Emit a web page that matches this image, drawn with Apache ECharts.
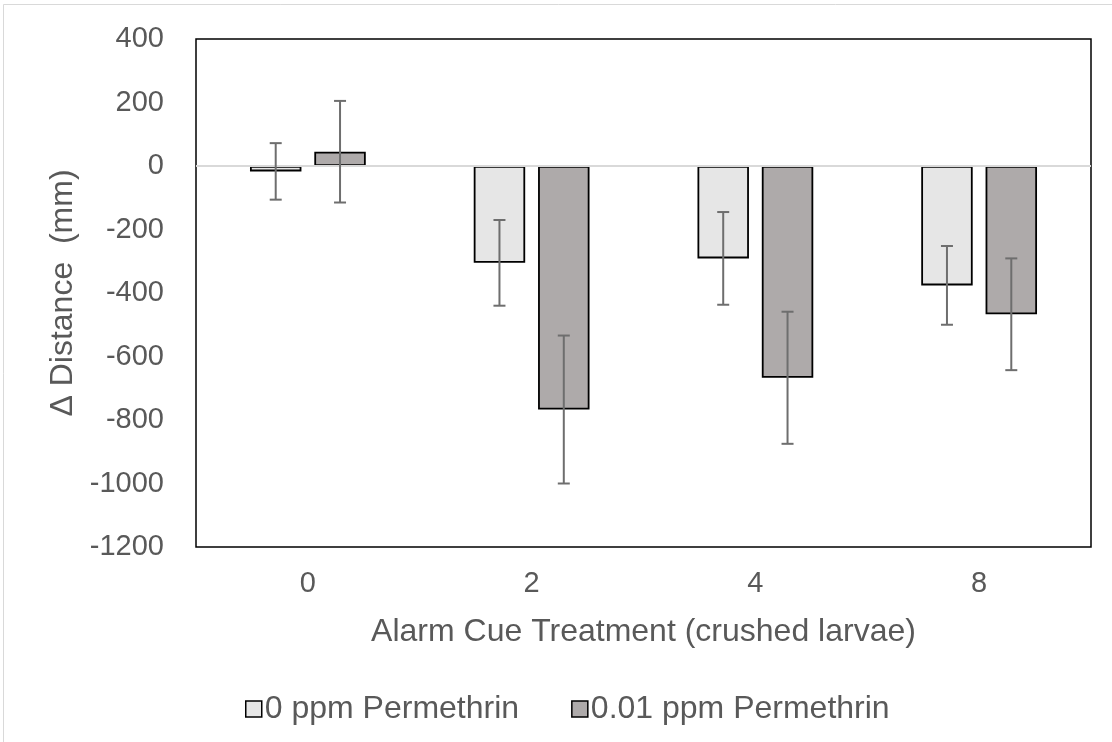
<!DOCTYPE html>
<html>
<head>
<meta charset="utf-8">
<script src="https://cdn.jsdelivr.net/npm/echarts@6/dist/echarts.min.js"></script>
<style>
html,body{margin:0;padding:0;background:#fff;}
#chart{width:1112px;height:742px;}
</style>
</head>
<body>
<div id="chart"></div>
<script>
var categories = ['0', '2', '4', '8'];
var seriesNames = ['0 ppm Permethrin', '0.01 ppm Permethrin'];
var means0 = [-17, -305, -291, -376];
var errs0 = [89, 135, 146, 124];
var means1 = [45, -767, -667, -467];
var errs1 = [160, 233, 208, 176];
var yTicks = {min: -1200, max: 400, interval: 200};

var colors = ['#e6e6e6', '#aeaaaa'];
var BAR_W = 0.23, BAR_GAP = 0.25;
var textColor = '#595959';
var FONT = '"Liberation Sans", Arial, sans-serif';

function errorSeries(means, errs, sign) {
  var data = means.map(function (m, i) { return [i, m - errs[i], m + errs[i]]; });
  return {
    type: 'custom',
    z: 10,
    silent: true,
    data: data,
    encode: {x: 0, y: [1, 2]},
    renderItem: function (params, api) {
      var idx = api.value(0);
      var band = api.size([1, 0])[0];
      var off = sign * band * BAR_W * (1 + BAR_GAP) / 2;
      var lo = api.coord([idx, api.value(1)]);
      var hi = api.coord([idx, api.value(2)]);
      var x = lo[0] + off;
      var cap = 6;
      var style = {stroke: '#6e6e6e', lineWidth: 2, fill: null};
      return {
        type: 'group',
        children: [
          {type: 'line', shape: {x1: x, y1: lo[1], x2: x, y2: hi[1]}, style: style},
          {type: 'line', shape: {x1: x - cap, y1: lo[1], x2: x + cap, y2: lo[1]}, style: style},
          {type: 'line', shape: {x1: x - cap, y1: hi[1], x2: x + cap, y2: hi[1]}, style: style}
        ]
      };
    }
  };
}

var chart = echarts.init(document.getElementById('chart'));
chart.setOption({
  animation: false,
  backgroundColor: '#fff',
  textStyle: {fontFamily: FONT},
  graphic: [{
    type: 'rect', silent: true, z: -1,
    shape: {x: 3.5, y: 4.5, width: 1120, height: 760},
    style: {fill: null, stroke: '#d9d9d9', lineWidth: 1}
  }],
  grid: {
    left: 196, right: 21, top: 39, bottom: 195,
    show: true, borderColor: '#000', borderWidth: 1.5, backgroundColor: 'transparent'
  },
  legend: {
    data: seriesNames,
    top: 688,
    left: 240,
    icon: 'rect',
    itemWidth: 16,
    itemHeight: 16,
    itemGap: 52,
    textStyle: {fontSize: 32, color: textColor, fontFamily: FONT, padding: [0, 0, 0, -2]},
    itemStyle: {borderColor: '#000', borderWidth: 1.5}
  },
  xAxis: {
    type: 'category',
    data: categories,
    name: 'Alarm Cue Treatment (crushed larvae)',
    nameLocation: 'middle',
    nameGap: 69,
    nameTextStyle: {fontSize: 32, color: textColor, fontFamily: FONT},
    axisLine: {show: false},
    axisTick: {show: false},
    axisLabel: {fontSize: 29, color: textColor, margin: 22, fontFamily: FONT}
  },
  yAxis: {
    type: 'value',
    min: yTicks.min, max: yTicks.max, interval: yTicks.interval,
    name: 'Δ Distance  (mm)',
    nameLocation: 'middle',
    nameGap: 105,
    nameRotate: 90,
    nameTextStyle: {fontSize: 32, color: textColor, fontFamily: FONT},
    axisLine: {show: false},
    axisTick: {show: false},
    splitLine: {show: false},
    axisLabel: {fontSize: 29, color: textColor, margin: 32, fontFamily: FONT,
      formatter: function (v) { return String(v); }}
  },
  series: [
    {
      name: seriesNames[0], type: 'bar', data: means0,
      barWidth: (BAR_W * 100) + '%', barGap: (BAR_GAP * 100) + '%',
      itemStyle: {color: colors[0], borderColor: '#000', borderWidth: 1.8},
      markLine: {
        silent: true, symbol: 'none', z: 5,
        label: {show: false},
        lineStyle: {color: '#d9d9d9', width: 2, type: 'solid'},
        data: [{yAxis: 0}]
      }
    },
    {
      name: seriesNames[1], type: 'bar', data: means1,
      barWidth: (BAR_W * 100) + '%', barGap: (BAR_GAP * 100) + '%',
      itemStyle: {color: colors[1], borderColor: '#000', borderWidth: 1.8}
    },
    errorSeries(means0, errs0, -1),
    errorSeries(means1, errs1, 1)
  ]
});
</script>
</body>
</html>
